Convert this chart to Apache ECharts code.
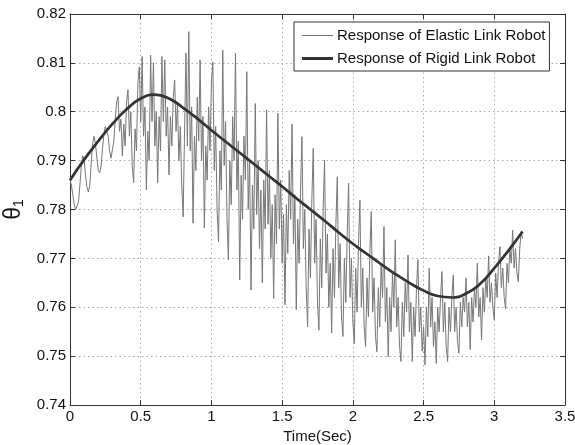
<!DOCTYPE html>
<html><head><meta charset="utf-8">
<script src="https://cdn.jsdelivr.net/npm/echarts@6/dist/echarts.min.js"></script>
<style>html,body{margin:0;padding:0;background:#fff}#c{width:575px;height:445px}</style>
</head><body><div id="c"></div>
<script>
const xTickLabels = ['0','0.5','1','1.5','2','2.5','3','3.5'];
const yTickLabels = ['0.74','0.75','0.76','0.77','0.78','0.79','0.8','0.81','0.82'];
const seriesNames = ['Response of Elastic Link Robot','Response of Rigid Link Robot'];
const xAxisTitle = 'Time(Sec)';

// elastic link response, sampled every 0.01 s from t = 0 to 3.2 s
const elasticDt = 0.01;
const elasticTheta = [
0.7860,0.7850,0.7830,0.7810,0.7800,0.7798,0.7815,0.7850,0.7890,0.7910,
0.7900,0.7870,0.7845,0.7836,0.7850,0.7895,0.7935,0.7950,0.7935,0.7905,
0.7880,0.7875,0.7890,0.7925,0.7955,0.7970,0.7973,0.7950,0.7920,0.7905,
0.7905,0.7940,0.7985,0.8020,0.8031,0.7960,0.7985,0.7910,0.7975,0.7930,
0.8020,0.8045,0.7950,0.8000,0.7890,0.7855,0.7965,0.7920,0.8060,0.8092,
0.7980,0.8113,0.7950,0.8010,0.7840,0.7960,0.7900,0.8116,0.7980,0.8100,
0.7930,0.8000,0.7855,0.7990,0.7920,0.8113,0.7980,0.8106,0.7950,0.8010,
0.7871,0.7990,0.7930,0.8030,0.8065,0.7960,0.8020,0.7900,0.7970,0.7850,
0.7785,0.7960,0.8120,0.7930,0.8164,0.7920,0.8010,0.7772,0.7950,0.7880,
0.8030,0.7940,0.8106,0.7900,0.7990,0.7762,0.7930,0.7860,0.8010,0.7920,
0.8060,0.8102,0.7880,0.7970,0.7800,0.7734,0.7920,0.7840,0.8126,0.7890,
0.7980,0.7780,0.7697,0.7900,0.7810,0.7990,0.7900,0.8120,0.7840,0.7940,
0.7656,0.7870,0.7780,0.7950,0.7860,0.8082,0.7800,0.7900,0.7635,0.7850,
0.7760,0.8017,0.7790,0.7900,0.7720,0.7840,0.7650,0.7860,0.7760,0.8004,
0.7770,0.7880,0.7700,0.7810,0.7618,0.7830,0.7730,0.7997,0.7760,0.7860,
0.7690,0.7790,0.7605,0.7810,0.7710,0.7880,0.7780,0.7975,0.7730,0.7830,
0.7595,0.7780,0.7690,0.7840,0.7949,0.7720,0.7800,0.7640,0.7560,0.7760,
0.7660,0.7820,0.7925,0.7690,0.7780,0.7610,0.7553,0.7740,0.7640,0.7800,
0.7901,0.7670,0.7750,0.7600,0.7690,0.7547,0.7720,0.7620,0.7770,0.7867,
0.7640,0.7730,0.7580,0.7540,0.7700,0.7610,0.7750,0.7854,0.7620,0.7700,
0.7570,0.7526,0.7680,0.7590,0.7730,0.7819,0.7600,0.7680,0.7560,0.7519,
0.7660,0.7580,0.7710,0.7796,0.7590,0.7660,0.7540,0.7509,0.7640,0.7560,
0.7690,0.7620,0.7765,0.7570,0.7640,0.7499,0.7620,0.7550,0.7670,0.7600,
0.7738,0.7560,0.7620,0.7520,0.7489,0.7610,0.7540,0.7650,0.7590,0.7707,
0.7550,0.7610,0.7489,0.7600,0.7540,0.7640,0.7697,0.7550,0.7600,0.7510,
0.7560,0.7482,0.7600,0.7540,0.7680,0.7560,0.7620,0.7520,0.7570,0.7485,
0.7600,0.7550,0.7620,0.7673,0.7550,0.7610,0.7520,0.7489,0.7600,0.7550,
0.7620,0.7666,0.7550,0.7600,0.7530,0.7506,0.7610,0.7560,0.7620,0.7590,
0.7660,0.7560,0.7610,0.7513,0.7620,0.7570,0.7640,0.7600,0.7690,0.7580,
0.7620,0.7533,0.7640,0.7590,0.7660,0.7620,0.7705,0.7610,0.7650,0.7600,
0.7574,0.7670,0.7620,0.7690,0.7724,0.7640,0.7680,0.7620,0.7596,0.7690,
0.7650,0.7720,0.7690,0.7758,0.7680,0.7720,0.7670,0.7652,0.7720,0.7755,
0.7740
];

// rigid link response
const rigidTime = [0,0.1,0.2,0.3,0.4,0.5,0.6,0.7,0.8,0.9,1.0,1.1,1.2,1.3,1.4,1.5,1.6,
  1.7,1.8,1.9,2.0,2.1,2.2,2.3,2.4,2.5,2.6,2.7,2.8,2.9,3.0,3.1,3.2];
const rigidTheta = [0.7860,0.7902,0.7940,0.7975,0.8005,0.8027,0.8035,0.8027,0.8008,0.7986,
  0.7962,0.7939,0.7916,0.7893,0.7870,0.7847,0.7823,0.7800,0.7777,0.7753,0.7730,0.7709,
  0.7688,0.7668,0.7650,0.7634,0.7623,0.7620,0.7628,0.7648,0.7680,0.7716,0.7755];

const elasticData = elasticTheta.map((v, i) => [i * elasticDt, v]);
const rigidData = rigidTime.map((t, i) => [t, rigidTheta[i]]);

const FONT = '"Liberation Sans", Arial, sans-serif';
const chart = echarts.init(document.getElementById('c'), null, {renderer: 'canvas'});
const axisLineStyle = {color: '#333', width: 1};
chart.setOption({
  backgroundColor: '#fff',
  animation: false,
  grid: {left: 70, right: 10, top: 14, bottom: 40, containLabel: false, outerBoundsMode: 'none'},
  legend: {
    orient: 'vertical', left: 294, top: 22,
    data: [
      {name: seriesNames[0], icon: 'path://M0,0H31V1H0Z'},
      {name: seriesNames[1], icon: 'path://M0,0H31V3H0Z'}
    ],
    backgroundColor: '#fff', borderColor: '#333', borderWidth: 1, borderRadius: 0,
    padding: [6, 4, 5, 8], itemGap: 8, itemWidth: 31, itemHeight: 14,
    textStyle: {fontFamily: FONT, fontSize: 15, color: '#111', padding: [0, 0, 0, -1]}
  },
  xAxis: [{
    type: 'value', min: 0, max: 3.5, interval: 0.5,
    name: xAxisTitle, nameLocation: 'middle', nameGap: 15,
    nameTextStyle: {fontFamily: FONT, fontSize: 15, color: '#111'},
    axisLine: {show: true, onZero: false, lineStyle: axisLineStyle},
    axisTick: {show: true, inside: true, length: 5, lineStyle: axisLineStyle},
    axisLabel: {fontFamily: FONT, fontSize: 15, color: '#111', margin: 4,
      formatter: v => xTickLabels[Math.round(v / 0.5)]},
    splitLine: {show: true, lineStyle: {color: '#aaa', type: [1.5, 3], width: 1}}
  }, {
    type: 'value', position: 'top', min: 0, max: 3.5, interval: 0.5,
    axisLine: {show: true, onZero: false, lineStyle: axisLineStyle},
    axisTick: {show: true, inside: true, length: 5, lineStyle: axisLineStyle},
    axisLabel: {show: false}, splitLine: {show: false}
  }],
  yAxis: [{
    type: 'value', min: 0.74, max: 0.82, interval: 0.01,
    name: '{t|θ}{s|1}', nameLocation: 'middle', nameRotate: 90, nameGap: 38,
    nameTextStyle: {rich: {
      t: {fontFamily: FONT, fontSize: 23, color: '#111'},
      s: {fontFamily: FONT, fontSize: 14, color: '#111', padding: [10, 0, 0, 0]}
    }},
    axisLine: {show: true, onZero: false, lineStyle: axisLineStyle},
    axisTick: {show: true, inside: true, length: 5, lineStyle: axisLineStyle},
    axisLabel: {fontFamily: FONT, fontSize: 15, color: '#111', margin: 4,
      formatter: v => yTickLabels[Math.round((v - 0.74) / 0.01)]},
    splitLine: {show: true, lineStyle: {color: '#aaa', type: [1.5, 3], width: 1}}
  }, {
    type: 'value', position: 'right', min: 0.74, max: 0.82, interval: 0.01,
    axisLine: {show: true, onZero: false, lineStyle: axisLineStyle},
    axisTick: {show: true, inside: true, length: 5, lineStyle: axisLineStyle},
    axisLabel: {show: false}, splitLine: {show: false}
  }],
  series: [{
    name: seriesNames[0], type: 'line', data: elasticData,
    symbol: 'none', smooth: false, z: 2,
    lineStyle: {color: '#777', width: 1},
    itemStyle: {color: '#777'}
  }, {
    name: seriesNames[1], type: 'line', data: rigidData,
    symbol: 'none', smooth: true, z: 3,
    lineStyle: {color: '#333', width: 2.7},
    itemStyle: {color: '#333'}
  }]
});
</script>
</body></html>
